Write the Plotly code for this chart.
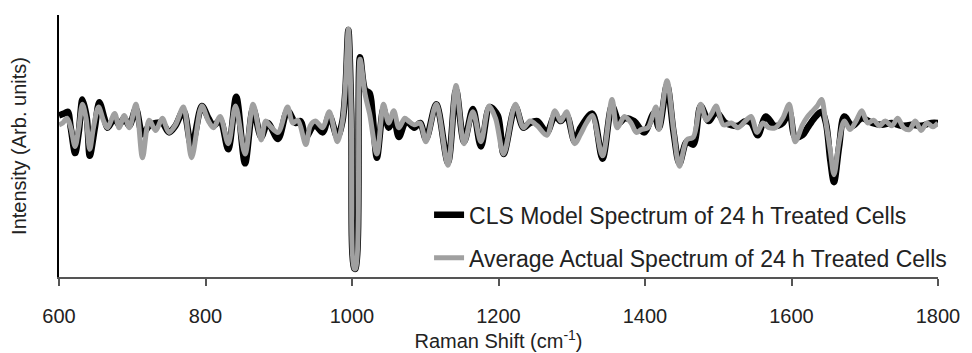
import plotly.graph_objects as go

# Raman shift (cm^-1) and intensity (arb. units)
cls_x = [600, 607, 612, 616, 622, 627, 632, 638, 642, 649, 655, 662, 666, 676, 682, 689, 696, 705, 714, 723,
         732, 741, 750, 759, 770, 781, 795, 804, 811, 820, 831, 842, 854, 865, 876, 885, 899, 912, 923, 930,
         937, 949, 960, 969, 980, 987, 991, 995, 999, 1003, 1005, 1011, 1018, 1024, 1028, 1034, 1043, 1050,
         1057, 1064, 1074, 1085, 1093, 1101, 1115, 1131, 1142, 1153, 1165, 1176, 1188, 1199, 1207, 1223,
         1234, 1243, 1253, 1266, 1277, 1285, 1293, 1304, 1312, 1328, 1342, 1355, 1365, 1372, 1385, 1399,
         1412, 1419, 1430, 1439, 1447, 1457, 1466, 1476, 1487, 1497, 1510, 1527, 1537, 1545, 1554, 1565,
         1577, 1588, 1597, 1605, 1615, 1622, 1631, 1641, 1647, 1653, 1658, 1665, 1672, 1683, 1696, 1710,
         1723, 1737, 1750, 1764, 1777, 1791, 1800]
cls_y = [6, 8, 10, -7, -34, -12, 23, 3, -37, -7, 20, 3, -7, 3, -4, 3, -5, 13, -14, -5,
         -2, -2, -12, -5, 11, -27, 16, 3, -5, 1, -30, 26, -45, 13, -17, -2, -19, 11, -2, 0,
         -17, -4, -12, 6, -17, 0, 33, 97, 8, -157, -157, 68, 33, 30, 8, -39, 13, -7,
         3, -17, 0, -7, -2, -19, 18, -44, 33, -22, 13, -27, 15, 6, -35, 15,
         -7, -2, 0, -12, 6, 0, 6, -22, -7, 8, -40, 16, -2, 3, 0, -12,
         8, -7, 38, -12, -45, -22, -25, 16, 0, 10, -2, -5, 0, -2, -15, 5,
         -5, -2, 10, -17, -15, -7, 3, 10, -2, -42, -65, -27, 5, -5, 3, -2,
         -4, -2, -5, -4, -5, -2, -2]

avg_x = [600, 605, 611, 616, 622, 627, 632, 637, 642, 647, 654, 661, 666, 676, 682, 689, 696, 705, 714, 723,
         732, 741, 750, 759, 770, 781, 795, 804, 811, 820, 831, 841, 854, 865, 876, 882, 888, 899, 912, 919,
         926, 937, 943, 950, 960, 969, 980, 987, 991, 995, 999, 1003, 1005, 1011, 1018, 1024, 1034, 1043,
         1050, 1057, 1064, 1072, 1077, 1085, 1093, 1101, 1115, 1131, 1142, 1153, 1165, 1176, 1187, 1196,
         1207, 1223, 1234, 1243, 1253, 1266, 1277, 1285, 1293, 1304, 1312, 1320, 1328, 1342, 1355, 1362,
         1372, 1381, 1388, 1395, 1404, 1415, 1419, 1430, 1439, 1447, 1457, 1466, 1476, 1484, 1491, 1497,
         1507, 1518, 1527, 1537, 1545, 1553, 1561, 1569, 1578, 1588, 1597, 1605, 1615, 1622, 1628, 1635,
         1641, 1646, 1653, 1658, 1665, 1672, 1680, 1688, 1696, 1704, 1712, 1720, 1728, 1737, 1745, 1753,
         1761, 1769, 1777, 1785, 1793, 1800]
avg_y = [-4, -2, 3, -7, -27, -7, 18, 3, -30, -7, 15, 0, -7, 8, -7, 6, -7, 18, -39, 1,
         -10, 3, -12, -4, 15, -39, 16, 0, -7, 5, -24, 16, -35, 18, -20, 0, -5, -12, 15, -2,
         1, -25, -5, 0, -7, 10, -22, 0, 38, 98, 8, -157, -157, 66, 28, 8, -35, 18,
         -2, 11, -7, 3, 0, -4, -2, -22, 18, -47, 38, -24, 10, -22, 16, 3,
         -35, 18, -7, 0, -5, -15, 11, 0, 10, -24, -14, -2, 6, -37, 23, -7,
         5, -2, -12, -9, -7, 15, -9, 43, -9, -48, -20, -17, 18, 1, 8, 16,
         -4, -2, -7, 0, 5, -12, -2, -7, -7, 3, 18, -22, -4, 5, 10, 16,
         23, 3, -32, -57, -22, 0, -9, 0, 11, -2, 1, -5, 0, -5, 3, -7,
         -9, 0, -10, -2, -6, -2]

x_ticks = [600, 800, 1000, 1200, 1400, 1600, 1800]
x_range = [600, 1800]
y_range = [-166, 113]

font_family = "Liberation Sans, Arial, sans-serif"
text_color = "#222222"

fig = go.Figure()
fig.add_trace(go.Scatter(
    x=cls_x, y=cls_y, mode="lines",
    name="CLS Model Spectrum of 24 h Treated Cells",
    legendgroup="cls",
    line=dict(color="#000000", width=6.5, shape="spline", smoothing=0.9),
))
fig.add_trace(go.Scatter(
    x=avg_x, y=avg_y, mode="lines",
    name="Average Actual Spectrum of 24 h Treated Cells",
    legendgroup="avg",
    line=dict(color="#a0a0a0", width=5, shape="spline", smoothing=0.9),
))

fig.update_layout(
    width=972, height=353,
    margin=dict(l=59, r=25, t=15, b=59, pad=0),
    paper_bgcolor="white", plot_bgcolor="white",
    font=dict(family=font_family, color=text_color, size=20),
    showlegend=True,
    legend=dict(
        x=0.421, y=0.319, xanchor="left", yanchor="top",
        bgcolor="rgba(0,0,0,0)", borderwidth=0,
        font=dict(family=font_family, size=23, color=text_color),
        traceorder="grouped", tracegroupgap=10,
    ),
    xaxis=dict(
        range=x_range, tickmode="array", tickvals=x_ticks,
        ticktext=[str(t) for t in x_ticks],
        showline=True, linecolor="#555555", linewidth=2,
        ticks="outside", ticklen=7, tickwidth=1.5, tickcolor="#555555",
        ticklabelstandoff=13,
        showgrid=False, zeroline=False,
        tickfont=dict(size=20, color=text_color),
        title=dict(text="Raman Shift (cm<sup>-1</sup>)", font=dict(size=20, color=text_color), standoff=0),
    ),
    yaxis=dict(
        range=y_range, showline=True, linecolor="#000000", linewidth=1.5,
        showticklabels=False, ticks="", showgrid=False, zeroline=False,
        title=dict(text="Intensity (Arb. units)", font=dict(size=20, color=text_color), standoff=25),
    ),
)

fig.write_html("out.html")
